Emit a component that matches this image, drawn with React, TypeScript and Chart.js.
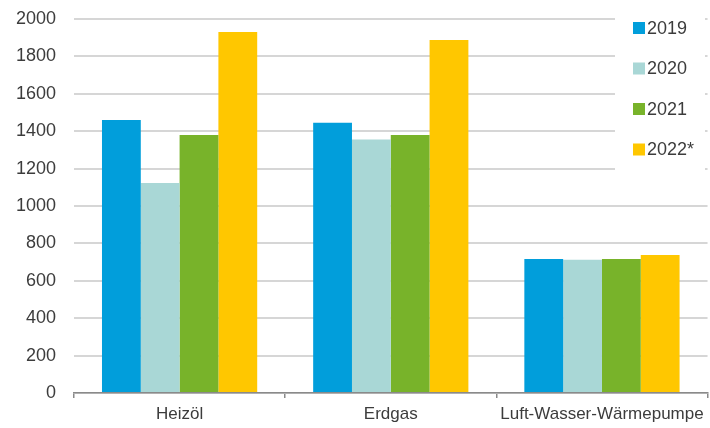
import React, { useEffect, useRef } from "react";
import { Chart, registerables } from "chart.js";

Chart.register(...registerables);

const categories = ["Heizöl", "Erdgas", "Luft-Wasser-Wärmepumpe"];
const seriesLabels = ["2019", "2020", "2021", "2022*"];
const values2019 = [1460, 1445, 717];
const values2020 = [1123, 1355, 712];
const values2021 = [1380, 1380, 717];
const values2022 = [1930, 1888, 738];
const colors = ["#019EDB", "#A9D7D6", "#78B32A", "#FFC700"];
const yTicks = [0, 200, 400, 600, 800, 1000, 1200, 1400, 1600, 1800, 2000];

const FONT = "'Liberation Sans', Arial, Helvetica, sans-serif";
const TEXT = "#3c3c3c";

const legendPlugin = {
  id: "customLegend",
  afterDraw(chart: any) {
    const ctx = chart.ctx;
    ctx.save();
    ctx.fillStyle = "#ffffff";
    ctx.fillRect(615, 0, 90, 182);
    const ds = chart.data.datasets;
    const startY = 28;
    const step = 40.5;
    ds.forEach((d: any, i: number) => {
      const cy = startY + i * step;
      ctx.fillStyle = d.backgroundColor;
      ctx.fillRect(633, cy - 6, 12, 12);
      ctx.fillStyle = TEXT;
      ctx.font = `18px ${FONT}`;
      ctx.textBaseline = "middle";
      ctx.textAlign = "left";
      ctx.fillText(d.label, 647, cy + 1);
    });
    ctx.restore();
  },
};

export default function App() {
  const ref = useRef<HTMLCanvasElement>(null);
  useEffect(() => {
    if (!ref.current) return;
    const data = [values2019, values2020, values2021, values2022];
    const chart = new Chart(ref.current, {
      type: "bar",
      data: {
        labels: categories,
        datasets: seriesLabels.map((l, i) => ({
          label: l,
          data: data[i],
          backgroundColor: colors[i],
          borderWidth: 0,
          categoryPercentage: 0.735,
          barPercentage: 1,
        })),
      },
      options: {
        animation: false,
        responsive: false,
        maintainAspectRatio: false,
        layout: { padding: { top: 19, right: 2, left: 0, bottom: 0 } },
        plugins: { legend: { display: false }, tooltip: { enabled: false } },
        scales: {
          x: {
            grid: {
              offset: true,
              drawOnChartArea: false,
              drawTicks: true,
              tickLength: 5,
              color: "#8a8a8a",
              lineWidth: 1.5,
            },
            border: { display: true, color: "#8a8a8a", width: 1.5 },
            ticks: {
              color: TEXT,
              font: { family: FONT, size: 17 },
              padding: 6,
              maxRotation: 0,
            },
            afterFit(scale: any) {
              scale.height = 35;
            },
          },
          y: {
            min: 0,
            max: 2000,
            afterBuildTicks(scale: any) {
              scale.ticks = yTicks.map((v) => ({ value: v }));
            },
            grid: { color: "#d6d6d6", lineWidth: 2, drawTicks: false },
            border: { display: false },
            ticks: {
              color: TEXT,
              font: { family: FONT, size: 18 },
              padding: 18,
              callback: (v: any) => String(v),
            },
            afterFit(scale: any) {
              scale.width = 74;
              scale.paddingTop = 0;
              scale.paddingBottom = 0;
            },
          },
        },
      },
      plugins: [legendPlugin],
    });
    return () => chart.destroy();
  }, []);
  return (
    <div style={{ position: "fixed", left: 0, top: 0, width: 710, height: 428, background: "#fff" }}>
      <canvas ref={ref} width={710} height={428} style={{ width: 710, height: 428 }} />
    </div>
  );
}
